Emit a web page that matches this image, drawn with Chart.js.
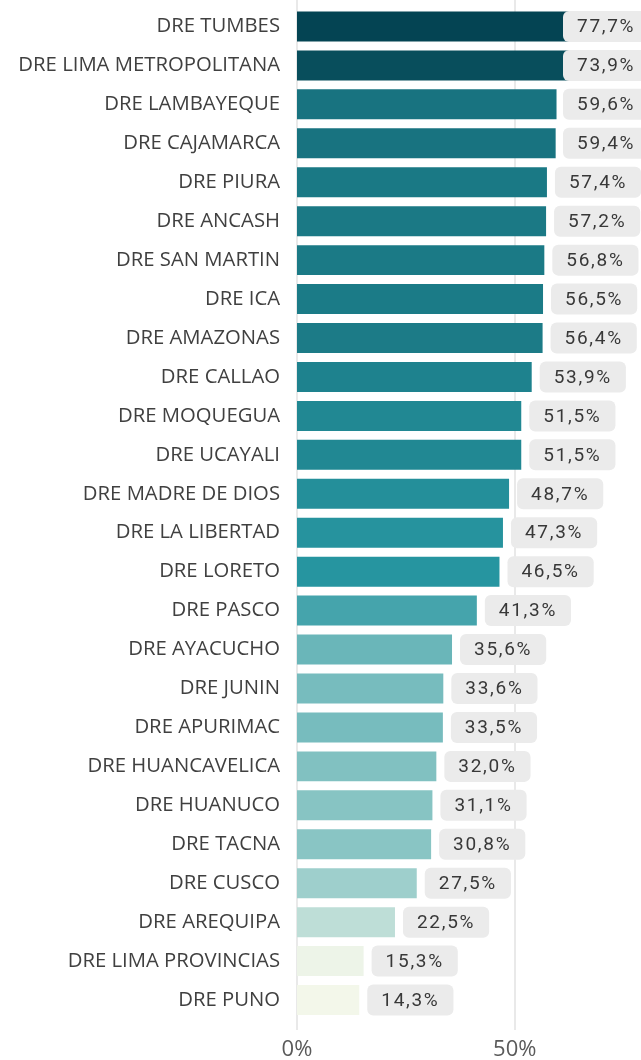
<!DOCTYPE html>
<html>
<head>
<meta charset="utf-8">
<script src="https://cdn.jsdelivr.net/npm/chart.js@4/dist/chart.umd.min.js"></script>
<style>
  html, body { margin: 0; padding: 0; background: #fff; }
  #wrap { width: 641px; height: 1060px; position: relative; }
</style>
</head>
<body>
<div id="wrap"><canvas id="barChart"></canvas></div>
<script>
// data
const categories = [
  'DRE TUMBES', 'DRE LIMA METROPOLITANA', 'DRE LAMBAYEQUE', 'DRE CAJAMARCA',
  'DRE PIURA', 'DRE ANCASH', 'DRE SAN MARTIN', 'DRE ICA', 'DRE AMAZONAS',
  'DRE CALLAO', 'DRE MOQUEGUA', 'DRE UCAYALI', 'DRE MADRE DE DIOS',
  'DRE LA LIBERTAD', 'DRE LORETO', 'DRE PASCO', 'DRE AYACUCHO', 'DRE JUNIN',
  'DRE APURIMAC', 'DRE HUANCAVELICA', 'DRE HUANUCO', 'DRE TACNA', 'DRE CUSCO',
  'DRE AREQUIPA', 'DRE LIMA PROVINCIAS', 'DRE PUNO'
];
const values = [
  77.7, 73.9, 59.6, 59.4, 57.4, 57.2, 56.8, 56.5, 56.4, 53.9, 51.5, 51.5, 48.7,
  47.3, 46.5, 41.3, 35.6, 33.6, 33.5, 32.0, 31.1, 30.8, 27.5, 22.5, 15.3, 14.3
];
const xTicks = [0, 50];

// diverging colour scale: low -> centre -> high
const lowColor = [243, 247, 234];
const midColor = [39, 150, 161];
const highColor = [4, 68, 83];

function colorFor(v) {
  const min = Math.min(...values);
  const max = Math.max(...values);
  const mid = (min + max) / 2;
  let a, b, t;
  if (v <= mid) { a = lowColor; b = midColor; t = (v - min) / (mid - min); }
  else { a = midColor; b = highColor; t = (v - mid) / (max - mid); }
  const c = a.map((x, i) => Math.round(x + (b[i] - x) * t));
  return `rgb(${c[0]},${c[1]},${c[2]})`;
}

function fmt(v) {
  return v.toFixed(1).replace('.', ',') + '%';
}

// vertical grid lines, a bit taller than the plot area
const gridPlugin = {
  id: 'gridLines',
  beforeDatasetsDraw(chart) {
    const { ctx, scales } = chart;
    ctx.save();
    ctx.strokeStyle = '#e9e9e9';
    ctx.lineWidth = 2;
    xTicks.forEach(t => {
      const x = Math.round(scales.x.getPixelForValue(t));
      ctx.beginPath();
      ctx.moveTo(x, 0);
      ctx.lineTo(x, 1030);
      ctx.stroke();
    });
    ctx.restore();
  }
};

// grey rounded label boxes after each bar
const labelPlugin = {
  id: 'valueBoxes',
  afterDatasetsDraw(chart) {
    const { ctx, chartArea } = chart;
    const meta = chart.getDatasetMeta(0);
    ctx.save();
    ctx.font = '19px Roboto';
    ctx.letterSpacing = '1.7px';
    ctx.textBaseline = 'middle';
    ctx.textAlign = 'left';
    meta.data.forEach((bar, i) => {
      const text = fmt(values[i]);
      const w = ctx.measureText(text).width + 28;
      const h = 31;
      const x = Math.min(bar.x + 8, chartArea.right - 78);
      const y = bar.y - h / 2;
      ctx.fillStyle = '#ebebeb';
      ctx.beginPath();
      ctx.roundRect(x, y, w, h, 6);
      ctx.fill();
      ctx.fillStyle = '#383838';
      ctx.fillText(text, x + 14, bar.y + 1);
    });
    ctx.restore();
  }
};

document.addEventListener('DOMContentLoaded', () => {
  const ctx = document.getElementById('barChart').getContext('2d');
  new Chart(ctx, {
    type: 'bar',
    data: {
      labels: categories,
      datasets: [{
        data: values,
        backgroundColor: values.map(colorFor),
        borderWidth: 0,
        barPercentage: 0.77,
        categoryPercentage: 1
      }]
    },
    options: {
      indexAxis: 'y',
      responsive: true,
      maintainAspectRatio: false,
      animation: false,
      layout: { padding: { top: 7, right: 0, left: 0, bottom: 0 } },
      plugins: {
        legend: { display: false },
        tooltip: { enabled: false }
      },
      scales: {
        x: {
          min: 0,
          max: 79,
          grid: { display: false, drawTicks: false },
          border: { display: false },
          afterBuildTicks(scale) {
            scale.ticks = xTicks.map(v => ({ value: v }));
          },
          afterFit(scale) {
            scale.height = 40.5;
            scale.paddingLeft = 0;
            scale.paddingRight = 0;
          },
          ticks: {
            padding: 17,
            color: '#5a5a5a',
            font: { family: 'Open Sans', size: 22 },
            callback: v => v + '%'
          }
        },
        y: {
          grid: { display: false, drawTicks: false },
          border: { display: false },
          afterFit(scale) {
            scale.width = 297;
            scale.paddingTop = 0;
            scale.paddingBottom = 0;
          },
          ticks: {
            padding: 17,
            color: '#404040',
            font: { family: 'Open Sans', size: 20.3 }
          }
        }
      }
    },
    plugins: [gridPlugin, labelPlugin]
  });
});
</script>
</body>
</html>
